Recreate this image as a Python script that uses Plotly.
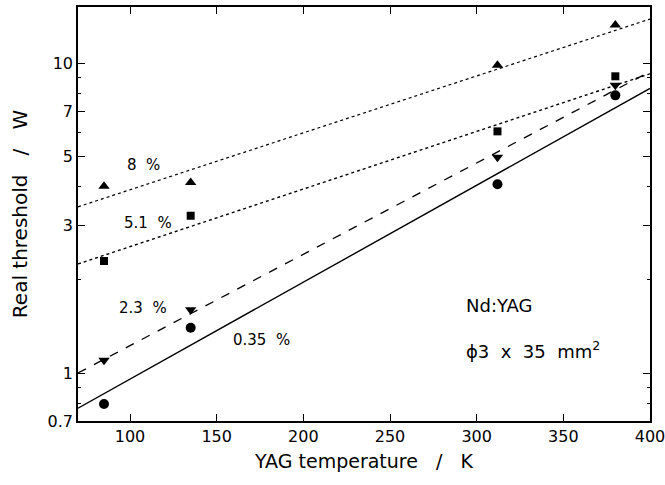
import plotly.graph_objects as go
import math

# Measured data (YAG temperature in K, real threshold in W)
temps = [85, 135, 312, 380]
thr_8 = [4.01, 4.12, 9.85, 13.3]
thr_51 = [2.30, 3.22, 6.03, 9.08]
thr_23 = [1.10, 1.60, 4.97, 8.49]
thr_035 = [0.794, 1.40, 4.07, 7.88]

# Fitted lines (end points)
fit_T = [70, 400]
fit_8 = [3.44, 13.9]
fit_51 = [2.25, 9.25]
fit_23 = [1.0, 9.4]
fit_035 = [0.77, 8.3]

x_ticks = [100, 150, 200, 250, 300, 350, 400]
y_ticks = [0.7, 1, 3, 5, 7, 10]
y_ticktext = ["0.7", "1", "3", "5", "7", "10"]
y_minor = [0.8, 0.9, 2, 4, 6, 8, 9]

FONT = "DejaVu Sans, Liberation Sans, sans-serif"

fig = go.Figure()

def add_line(vals, dash, width):
    fig.add_trace(go.Scatter(x=fit_T, y=vals, mode="lines",
                             line=dict(color="black", dash=dash, width=width),
                             showlegend=False, hoverinfo="skip"))

add_line(fit_8, "dot", 1.2)
add_line(fit_51, "dot", 1.4)
add_line(fit_23, "dash", 1.3)
add_line(fit_035, "solid", 1.4)

def add_pts(vals, symbol, size):
    fig.add_trace(go.Scatter(x=temps, y=vals, mode="markers",
                             marker=dict(symbol=symbol, color="black", size=size),
                             showlegend=False))

add_pts(thr_8, "triangle-up", 10)
add_pts(thr_51, "square", 8)
add_pts(thr_23, "triangle-down", 10)
add_pts(thr_035, "circle", 10)

labels = [
    ("8  %", 107.5, 0.671),
    ("5.1  %", 110.4, 0.485),
    ("2.3  %", 107.5, 0.21),
    ("0.35  %", 176.0, 0.106),
]
for txt, x, ly in labels:
    fig.add_annotation(x=x, y=ly, text=txt, showarrow=False,
                       font=dict(family=FONT, size=15, color="black"),
                       xanchor="center", yanchor="middle")

fig.add_annotation(x=292.5, y=0.219, text="Nd:YAG", showarrow=False,
                   font=dict(family=FONT, size=18, color="black"),
                   xanchor="left", yanchor="middle")
fig.add_annotation(x=292.5, y=0.074, text="ϕ3  x  35  mm<sup>2</sup>", showarrow=False,
                   font=dict(family=FONT, size=18, color="black"),
                   xanchor="left", yanchor="middle")

fig.update_layout(
    width=665, height=485,
    margin=dict(l=78, r=15, t=7, b=64, autoexpand=False),
    paper_bgcolor="white", plot_bgcolor="white",
    font=dict(family=FONT, size=16, color="black"),
    xaxis=dict(range=[70, 400], tickvals=x_ticks, ticks="inside", ticklen=7,
               tickcolor="black", linecolor="black", linewidth=1.5, mirror="ticks",
               showgrid=False, zeroline=False, ticklabeloverflow="allow", automargin=False,
               title=dict(text="YAG temperature   /   K", font=dict(size=19), standoff=10),
               tickfont=dict(size=16)),
    yaxis=dict(type="log", range=[math.log10(0.7), math.log10(15.2)],
               tickvals=y_ticks, ticktext=y_ticktext, ticks="inside", ticklen=7,
               tickcolor="black", linecolor="black", linewidth=1.5, mirror="ticks",
               showgrid=False, zeroline=False, automargin=False,
               minor=dict(tickvals=y_minor, ticks="inside", ticklen=3, tickcolor="black", showgrid=False),
               title=dict(text="Real threshold   /   W", font=dict(size=20), standoff=15),
               tickfont=dict(size=16)),
)

fig.write_html("out.html", config={"displayModeBar": False},
               post_script="document.body.style.margin='0';")
